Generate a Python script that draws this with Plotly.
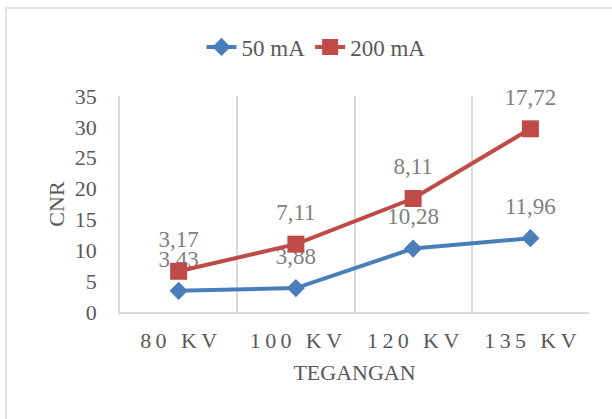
import plotly.graph_objects as go

categories = ["80 KV", "100 KV", "120 KV", "135 KV"]
tick_labels = ["8\u20090\u2009 \u2009K\u2009V", "1\u20090\u20090\u2009 \u2009K\u2009V",
               "1\u20092\u20090\u2009 \u2009K\u2009V", "1\u20093\u20095\u2009 \u2009K\u2009V"]
cnr_50ma = [3.43, 3.88, 10.28, 11.96]
cnr_200ma = [3.17, 7.11, 8.11, 17.72]

W, H = 612, 419
L, R, T, B = 120, W - 589, 96, H - 312
pw, ph = W - L - R, H - T - B

def px(x):
    return (x - L) / pw

def py(y):
    return (H - B - y) / ph

def lab(vals):
    return [f"{v:.2f}".replace(".", ",") for v in vals]

font = "Liberation Serif"
blue, red = "#4a7ebb", "#be4b48"
axis_col, label_col = "#595959", "#808080"

fig = go.Figure()
# data labels (same stacking, invisible larger markers to lift the text)
for name, vals in [("50 mA", cnr_50ma), ("200 mA", cnr_200ma)]:
    fig.add_trace(go.Scatter(
        x=categories, y=vals, stackgroup="labels", fill="none",
        mode="markers+text", text=lab(vals), textposition="top center",
        textfont=dict(family=font, size=23, color=label_col),
        marker=dict(size=28, color="rgba(0,0,0,0)"),
        line=dict(width=0), showlegend=False, hoverinfo="skip",
        cliponaxis=False,
    ))
fig.add_trace(go.Scatter(
    x=categories, y=cnr_50ma, name="50 mA", stackgroup="s", fill="none",
    mode="lines+markers",
    line=dict(color=blue, width=4),
    marker=dict(symbol="diamond", size=14, color=blue),
    hoverinfo="skip", cliponaxis=False,
))
fig.add_trace(go.Scatter(
    x=categories, y=cnr_200ma, name="200 mA", stackgroup="s", fill="none",
    mode="lines+markers",
    line=dict(color=red, width=4),
    marker=dict(symbol="square", size=17, color=red),
    hoverinfo="skip", cliponaxis=False,
))

fig.update_layout(
    width=W, height=H,
    margin=dict(l=L, r=R, t=T, b=B, autoexpand=False),
    paper_bgcolor="white", plot_bgcolor="white",
    font=dict(family=font, size=22, color=axis_col),
    showlegend=True,
    legend=dict(orientation="h", x=px(316), xanchor="center", y=py(47), yanchor="middle",
                font=dict(family=font, size=23, color=axis_col),
                traceorder="normal", bgcolor="rgba(0,0,0,0)"),
    shapes=[dict(type="rect", xref="paper", yref="paper",
                 x0=px(6), x1=px(640), y0=py(440), y1=py(8),
                 line=dict(color="#d9d9d9", width=1.5), layer="below")],
)
fig.update_xaxes(
    type="category", tickvals=categories, ticktext=tick_labels,
    tickson="boundaries", showgrid=True, gridcolor="#d9d9d9", gridwidth=1.5,
    showline=True, linecolor="#d9d9d9", linewidth=1.5, mirror=False,
    ticks="", tickfont=dict(family=font, size=22, color=axis_col),
    ticklabelstandoff=8,
    title=dict(text="TEGANGAN", font=dict(family=font, size=22, color=axis_col), standoff=12),
    range=[-0.5, 3.5], fixedrange=True,
)
fig.update_yaxes(
    range=[0, 35], dtick=5, showgrid=False, zeroline=False,
    showline=True, linecolor="#d9d9d9", linewidth=1.5,
    ticks="", tickfont=dict(family=font, size=22, color=axis_col),
    ticklabelstandoff=17,
    title=dict(text="CNR", font=dict(family=font, size=22, color=axis_col), standoff=4),
    fixedrange=True,
)

fig.write_html("out.html", config={"displayModeBar": False},
               post_script="document.body.style.margin='0';document.body.style.overflow='hidden';")
